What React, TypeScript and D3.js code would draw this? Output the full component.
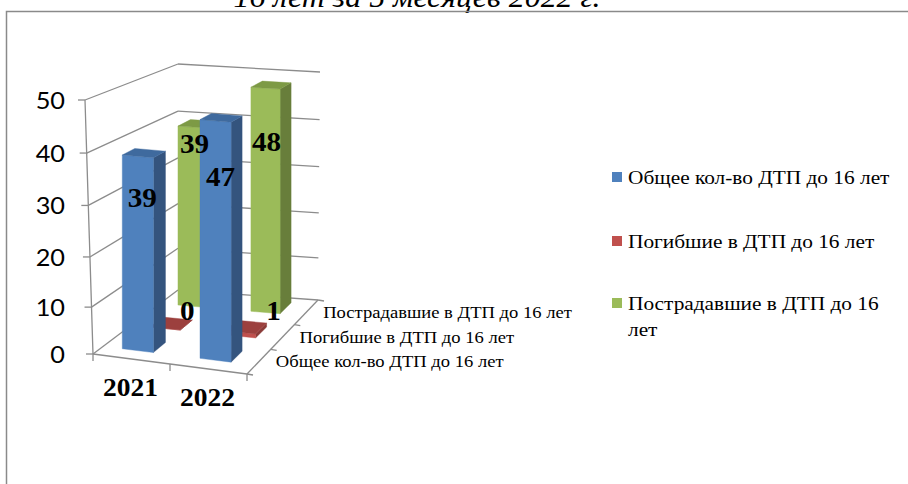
import React from "react";
import * as d3 from "d3";

const titleText = "16 лет за 5 месяцев 2022 г.";
const years = ["2021", "2022"];
const seriesNames = [
  "Общее кол-во ДТП до 16 лет",
  "Погибшие в ДТП до 16 лет",
  "Пострадавшие в ДТП до 16 лет",
];
const totalValues = [39, 47];
const killedValues = [0, 1];
const injuredValues = [39, 48];
const labelLevels = [
  [31, 36.5],
  [4.2, 5.8],
  [35.6, 37],
];
const labelShifts = [
  [4.5, 5],
  [22, 33],
  [2, 1],
];
const yTicks = [0, 10, 20, 30, 40, 50];
const depthColors = [
  { front: "#4f81bd", side: "#34547e", top: "#3f6a9e" },
  { front: "#c0504d", side: "#8a3a38", top: "#9c403e" },
  { front: "#9bbb59", side: "#687e3b", top: "#7d9a45" },
];
const legendRows = [
  { color: 0, lines: ["Общее кол-во ДТП до 16 лет"] },
  { color: 1, lines: ["Погибшие в ДТП до 16 лет"] },
  { color: 2, lines: ["Пострадавшие в ДТП до 16", "лет"] },
];

const W = 908;
const H = 484;
const grid = "#8c8c8c";
const serif = "'Liberation Serif', serif";
const stretch = 1.1;

type P = [number, number];
const mix = (a: P, b: P, t: number): P => [a[0] + (b[0] - a[0]) * t, a[1] + (b[1] - a[1]) * t];
const floorC = { fl: [93, 354] as P, fr: [247, 374] as P, br: [318, 300] as P, bl: [178, 290] as P };
const topC = { fl: [85, 100] as P, fr: [240, 113] as P, br: [320, 72] as P, bl: [178, 64] as P };
const bil = (c: typeof floorC, u: number, v: number) => mix(mix(c.fl, c.fr, u), mix(c.bl, c.br, u), v);
// A slight power curve stands in for the perspective of the 3D wall.
const yScale = d3.scalePow().exponent(1.05).domain([0, 50]).range([0, 1]);
const project = (u: number, v: number, val: number): P =>
  mix(bil(floorC, u, v), bil(topC, u, v), yScale(val));
// Bars stand upright: they keep the floor's x at every height.
const projectBar = (u: number, v: number, val: number): P => [bil(floorC, u, v)[0], project(u, v, val)[1]];

const xBand = d3.scaleBand<string>().domain(years).range([0, 1]).paddingInner(0.6).paddingOuter(0.28).align(0.44);
const zBand = d3.scaleBand<string>().domain(seriesNames).range([0, 1]).paddingInner(0.55).paddingOuter(0.27).align(0.66);
const line = d3.line();

function Poly({ pts, fill }: { pts: P[]; fill: string }) {
  return <path d={line(pts) + "Z"} fill={fill} stroke={fill} strokeWidth={0.4} />;
}

function Bar3D({ u0, u1, v0, v1, val, c }: { u0: number; u1: number; v0: number; v1: number; val: number; c: typeof depthColors[0] }) {
  const p = projectBar;
  return (
    <g>
      <Poly pts={[p(u1, v0, 0), p(u1, v1, 0), p(u1, v1, val), p(u1, v0, val)]} fill={c.side} />
      <Poly pts={[p(u0, v0, 0), p(u1, v0, 0), p(u1, v0, val), p(u0, v0, val)]} fill={c.front} />
      <Poly pts={[p(u0, v0, val), p(u1, v0, val), p(u1, v1, val), p(u0, v1, val)]} fill={c.top} />
    </g>
  );
}

function Txt({ x, y, anchor, size, bold, italic, family, children }: any) {
  return (
    <text
      transform={`translate(${x},${y}) scale(${stretch},1)`}
      textAnchor={anchor || "start"}
      dominantBaseline="central"
      fontFamily={family || serif}
      fontWeight={bold ? "bold" : "normal"}
      fontStyle={italic ? "italic" : "normal"}
      fontSize={size}
      fill="#000"
    >
      {children}
    </text>
  );
}

export default function App() {
  const seriesValues = [totalValues, killedValues, injuredValues];
  const lines: [P, P][] = [];
  yTicks.forEach((t) => {
    if (t > 0) lines.push([project(0, 0, t), project(0, 1, t)]);
    if (t > 0) lines.push([project(0, 1, t), project(1, 1, t)]);
  });
  lines.push([project(0, 0, 0), project(0, 1, 0)]);
  lines.push([project(0, 1, 0), project(1, 1, 0)]);
  lines.push([project(0, 0, 0), project(1, 0, 0)]);
  lines.push([project(1, 0, 0), project(1, 1, 0)]);
  lines.push([project(0, 0, 0), project(0, 0, 50)]);
  yTicks.forEach((t) => {
    const a = project(0, 0, t);
    lines.push([a, [a[0] - 7, a[1]]]);
  });
  [0, 0.5, 1].forEach((u) => {
    const a = project(u, 0, 0);
    lines.push([a, [a[0], a[1] + 7]]);
  });
  [0, 1 / 3, 2 / 3, 1].forEach((v) => {
    const a = project(1, v, 0);
    lines.push([a, [a[0] + 6, a[1] + 1]]);
  });

  const order = [2, 1, 0];
  const bw = xBand.bandwidth();
  const bd = zBand.bandwidth();

  return (
    <svg width={W} height={H} style={{ position: "absolute", left: 0, top: 0, background: "#fff" }}>
      <text
        transform={`translate(417,7) scale(${stretch},1)`}
        textAnchor="middle"
        fontFamily={serif}
        fontStyle="italic"
        fontSize={29}
        fill="#000"
      >
        {titleText}
      </text>
      <path d={`M6.5 ${H} V11.5 H${W}`} fill="none" stroke="#8a8a8a" strokeWidth={1.5} />

      {lines.map((l, i) => (
        <path key={i} d={line(l) as string} fill="none" stroke={grid} strokeWidth={1.3} />
      ))}

      {order.map((s) =>
        years.map((yr, i) => {
          const u0 = xBand(yr) as number;
          const v0 = zBand(seriesNames[s]) as number;
          return (
            <Bar3D key={s + yr} u0={u0} u1={u0 + bw} v0={v0} v1={v0 + bd} val={seriesValues[s][i]} c={depthColors[s]} />
          );
        })
      )}

      {order.map((s) =>
        years.map((yr, i) => {
          const u = (xBand(yr) as number) + bw / 2;
          const v = zBand(seriesNames[s]) as number;
          const at = projectBar(u, v, labelLevels[s][i]);
          return (
            <Txt key={s + yr} x={at[0] + labelShifts[s][i]} y={at[1]} anchor="middle" bold size={26.5}>
              {seriesValues[s][i]}
            </Txt>
          );
        })
      )}

      {yTicks.map((t) => {
        const a = project(0, 0, t);
        return (
          <Txt key={t} x={65} y={a[1]} anchor="end" family="Lato" size={23}>
            {t}
          </Txt>
        );
      })}

      {years.map((yr, i) => {
        const a = project((i + 0.5) / 2, 0, 0);
        return (
          <Txt key={yr} x={a[0] - 1} y={a[1] + 29} anchor="middle" bold size={25}>
            {yr}
          </Txt>
        );
      })}

      {seriesNames.map((n, i) => {
        const a = project(1, (i + 0.5) / 3, 0);
        return (
          <Txt key={n} x={a[0] + 17} y={a[1]} size={16.9}>
            {n}
          </Txt>
        );
      })}

      {legendRows.map((r, i) => {
        const y = [177, 241, 303][i];
        return (
          <g key={i}>
            <rect x={612} y={y - 5} width={10} height={10} fill={depthColors[r.color].front} />
            {r.lines.map((t, j) => (
              <Txt key={j} x={628} y={y + j * 26} size={19.4}>
                {t}
              </Txt>
            ))}
          </g>
        );
      })}
    </svg>
  );
}
